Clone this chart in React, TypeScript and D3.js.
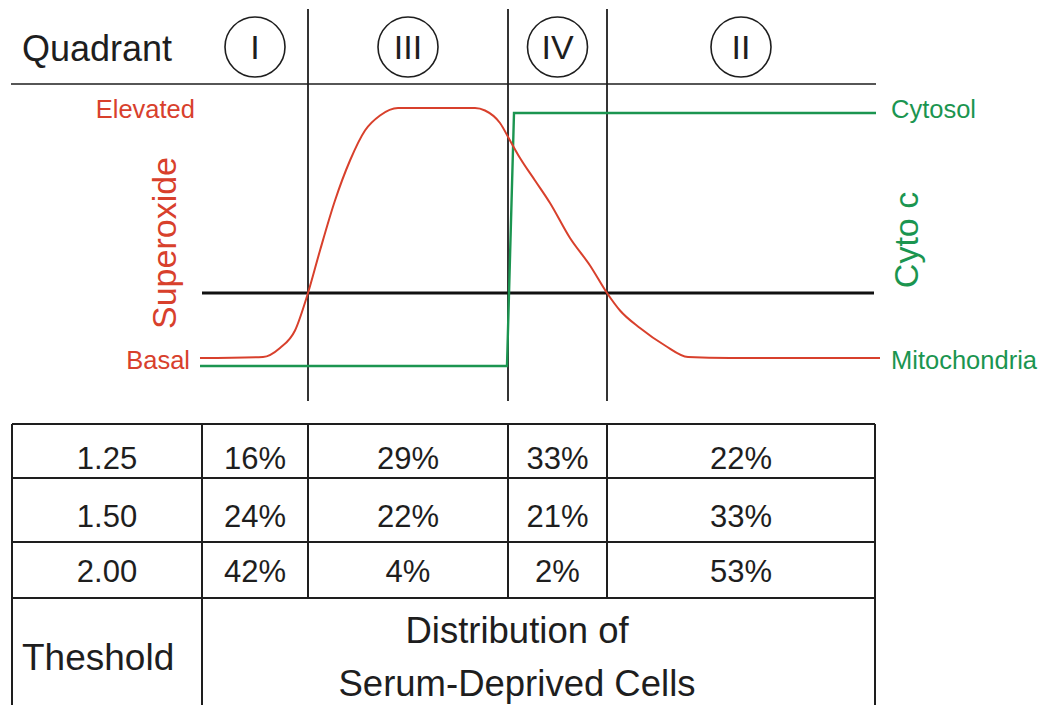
import React from "react";
import * as d3 from "d3";

// quadrant order left to right
const quadrants = ["I", "III", "IV", "II"];
// table thresholds and distribution (% per quadrant)
const thresholds = ["1.25", "1.50", "2.00"];
const distribution = [
  [16, 29, 33, 22],
  [24, 22, 21, 33],
  [42, 4, 2, 53],
];

// superoxide level over progression (0 = basal, 1 = elevated)
const superoxide: [number, number][] = [
  [0, 0], [63, 0.004], [80, 0.04], [95, 0.11], [108, 0.26], [120, 0.43],
  [135, 0.63], [150, 0.79], [165, 0.91], [180, 0.97], [198, 1], [275, 1],
  [285, 0.99], [300, 0.94], [310, 0.87], [320, 0.8], [335, 0.71],
  [350, 0.62], [370, 0.48], [390, 0.37], [407, 0.26], [420, 0.19],
  [440, 0.12], [465, 0.05], [488, 0.004], [530, 0], [680, 0],
];
// cyto c location (0 = mitochondria, 1 = cytosol)
const cytoC: [number, number][] = [
  [0, 0], [307, 0], [314, 1], [676, 1],
];
// quadrant boundaries on the progression axis
const boundaries = [108, 308, 407];
const threshold = 0.26;

const RED = "#d8402c";
const GREEN = "#1b9550";
const INK = "#1e1e1e";
const FONT = "'Liberation Sans', Arial, Helvetica, sans-serif";

const App = () => {
  const x = d3.scaleLinear().domain([0, 680]).range([200, 880]);
  const ySup = d3.scaleLinear().domain([0, 1]).range([358, 108]);
  const yCyt = d3.scaleLinear().domain([0, 1]).range([366, 113]);

  const supLine = d3
    .line<[number, number]>()
    .x((d) => x(d[0]))
    .y((d) => ySup(d[1]))
    .curve(d3.curveMonotoneX);
  const cytLine = d3
    .line<[number, number]>()
    .x((d) => x(d[0]))
    .y((d) => yCyt(d[1]));

  // column edges shared by the header and table
  const edges = [12, x(0) + 2, ...boundaries.map((b) => x(b)), 875];
  const centers = quadrants.map((_, i) => (edges[i + 1] + edges[i + 2]) / 2);
  const rowEdges = [424, 478, 542, 598, 720];
  const baselines = [469, 527, 582];

  return (
    <svg
      width={1047}
      height={705}
      style={{ position: "absolute", left: 0, top: 0, background: "#fff" }}
      fontFamily={FONT}
    >
      {/* header */}
      <text x={22} y={61} fontSize={36} fill={INK}>
        Quadrant
      </text>
      <line x1={11} x2={876} y1={84} y2={84} stroke={INK} strokeWidth={1.6} />
      {quadrants.map((q, i) => (
        <g key={q}>
          <circle cx={centers[i]} cy={47} r={30} fill="none" stroke={INK} strokeWidth={1.6} />
          <text x={centers[i]} y={59} textAnchor="middle" fontSize={34} fill={INK}>
            {q}
          </text>
        </g>
      ))}
      {boundaries.map((b) => (
        <line key={b} x1={x(b)} x2={x(b)} y1={9} y2={401} stroke={INK} strokeWidth={1.8} />
      ))}

      {/* threshold line */}
      <line
        x1={202}
        x2={874}
        y1={ySup(threshold)}
        y2={ySup(threshold)}
        stroke="#111"
        strokeWidth={3}
      />

      {/* curves */}
      <path d={cytLine(cytoC) || ""} fill="none" stroke={GREEN} strokeWidth={2.4} />
      <path d={supLine(superoxide) || ""} fill="none" stroke={RED} strokeWidth={2} />

      {/* axis labels */}
      <text x={195} y={118} textAnchor="end" fontSize={25.5} fill={RED}>
        Elevated
      </text>
      <text x={190} y={369} textAnchor="end" fontSize={25.5} fill={RED}>
        Basal
      </text>
      <text
        transform={`translate(176,243) rotate(-90)`}
        textAnchor="middle"
        fontSize={34}
        fill={RED}
      >
        Superoxide
      </text>
      <text x={891} y={118} fontSize={25.5} fill={GREEN}>
        Cytosol
      </text>
      <text x={891} y={369} fontSize={25.5} fill={GREEN}>
        Mitochondria
      </text>
      <text
        transform={`translate(918,240) rotate(-90)`}
        textAnchor="middle"
        fontSize={34}
        fill={GREEN}
      >
        Cyto c
      </text>

      {/* table */}
      <g stroke={INK} strokeWidth={2}>
        {rowEdges.slice(0, 4).map((r) => (
          <line key={r} x1={edges[0]} x2={edges[5]} y1={r} y2={r} />
        ))}
        {[edges[0], edges[1], edges[5]].map((c) => (
          <line key={c} x1={c} x2={c} y1={rowEdges[0]} y2={rowEdges[4]} />
        ))}
        {edges.slice(2, 5).map((c) => (
          <line key={c} x1={c} x2={c} y1={rowEdges[0]} y2={rowEdges[3]} />
        ))}
      </g>
      {thresholds.map((t, r) => (
        <g key={t} fontSize={31} fill={INK} textAnchor="middle">
          <text x={(edges[0] + edges[1]) / 2} y={baselines[r]}>
            {t}
          </text>
          {distribution[r].map((v, i) => (
            <text key={i} x={centers[i]} y={baselines[r]}>
              {v}%
            </text>
          ))}
        </g>
      ))}
      <text x={22} y={670} fontSize={37} fill={INK}>
        Theshold
      </text>
      <text x={517} y={643} textAnchor="middle" fontSize={36.5} fill={INK}>
        Distribution of
      </text>
      <text x={517} y={696} textAnchor="middle" fontSize={36.5} fill={INK}>
        Serum-Deprived Cells
      </text>
    </svg>
  );
};

export default App;
